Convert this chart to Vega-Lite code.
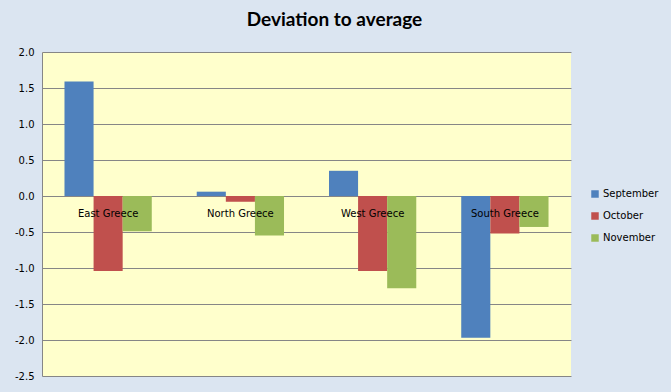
{
  "$schema": "https://vega.github.io/schema/vega-lite/v6.json",
  "autosize": {"type": "none"},
  "width": 529,
  "height": 324,
  "padding": {"left": 42, "top": 52, "right": 100, "bottom": 16},
  "background": "#dbe5f1",
  "title": {
    "text": "Deviation to average",
    "font": "Lato",
    "fontSize": 19,
    "fontWeight": "bold",
    "color": "#000000",
    "anchor": "middle",
    "dx": 28,
    "offset": 17
  },
  "datasets": {
    "values": [
      {"region": "East Greece", "month": "September", "value": 1.59},
      {"region": "East Greece", "month": "October", "value": -1.04},
      {"region": "East Greece", "month": "November", "value": -0.49},
      {"region": "North Greece", "month": "September", "value": 0.06},
      {"region": "North Greece", "month": "October", "value": -0.08},
      {"region": "North Greece", "month": "November", "value": -0.55},
      {"region": "West Greece", "month": "September", "value": 0.35},
      {"region": "West Greece", "month": "October", "value": -1.04},
      {"region": "West Greece", "month": "November", "value": -1.28},
      {"region": "South Greece", "month": "September", "value": -1.97},
      {"region": "South Greece", "month": "October", "value": -0.52},
      {"region": "South Greece", "month": "November", "value": -0.43}
    ],
    "regions": [
      {"region": "East Greece"},
      {"region": "North Greece"},
      {"region": "West Greece"},
      {"region": "South Greece"}
    ]
  },
  "layer": [
    {
      "data": {"name": "values"},
      "mark": {"type": "bar"},
      "encoding": {
        "x": {
          "field": "region",
          "type": "nominal",
          "sort": ["East Greece", "North Greece", "West Greece", "South Greece"],
          "scale": {"paddingInner": 0.34, "paddingOuter": 0.17},
          "axis": null
        },
        "xOffset": {
          "field": "month",
          "type": "nominal",
          "sort": ["September", "October", "November"],
          "scale": {"paddingInner": 0, "paddingOuter": 0}
        },
        "y": {
          "field": "value",
          "type": "quantitative",
          "scale": {"domain": [-2.5, 2], "nice": false, "zero": false},
          "axis": {
            "title": null,
            "tickCount": 9,
            "labelExpr": "replace(format(datum.value, '.1f'), '\u2212', '-')",
            "ticks": false,
            "labelOverlap": false,
            "labelFlush": false,
            "labelPadding": 8,
            "gridColor": "#868686",
            "gridOpacity": 1,
            "gridWidth": 1,
            "domainColor": "#868686",
            "domainWidth": 1
          }
        },
        "color": {
          "field": "month",
          "type": "nominal",
          "scale": {
            "domain": ["September", "October", "November"],
            "range": ["#4f81bd", "#c0504d", "#9bbb59"]
          },
          "legend": {
            "title": null,
            "orient": "none",
            "legendX": 548,
            "legendY": 137,
            "symbolType": "square",
            "symbolSize": 56,
            "symbolStrokeWidth": 0,
            "rowPadding": 12,
            "labelOffset": 3
          }
        }
      }
    },
    {
      "data": {"name": "regions"},
      "mark": {
        "type": "text",
        "dy": 18,
        "baseline": "middle",
        "align": "center",
        "font": "DejaVu Sans",
        "fontSize": 10,
        "color": "#000000"
      },
      "encoding": {
        "x": {
          "field": "region",
          "type": "nominal",
          "sort": ["East Greece", "North Greece", "West Greece", "South Greece"]
        },
        "y": {"datum": 0, "type": "quantitative"},
        "text": {"field": "region"}
      }
    }
  ],
  "config": {
    "view": {"fill": "#ffffcc", "stroke": null},
    "axis": {"labelFont": "DejaVu Sans", "labelFontSize": 10, "labelColor": "#000000"},
    "legend": {"labelFont": "DejaVu Sans", "labelFontSize": 10, "labelColor": "#000000"}
  }
}
